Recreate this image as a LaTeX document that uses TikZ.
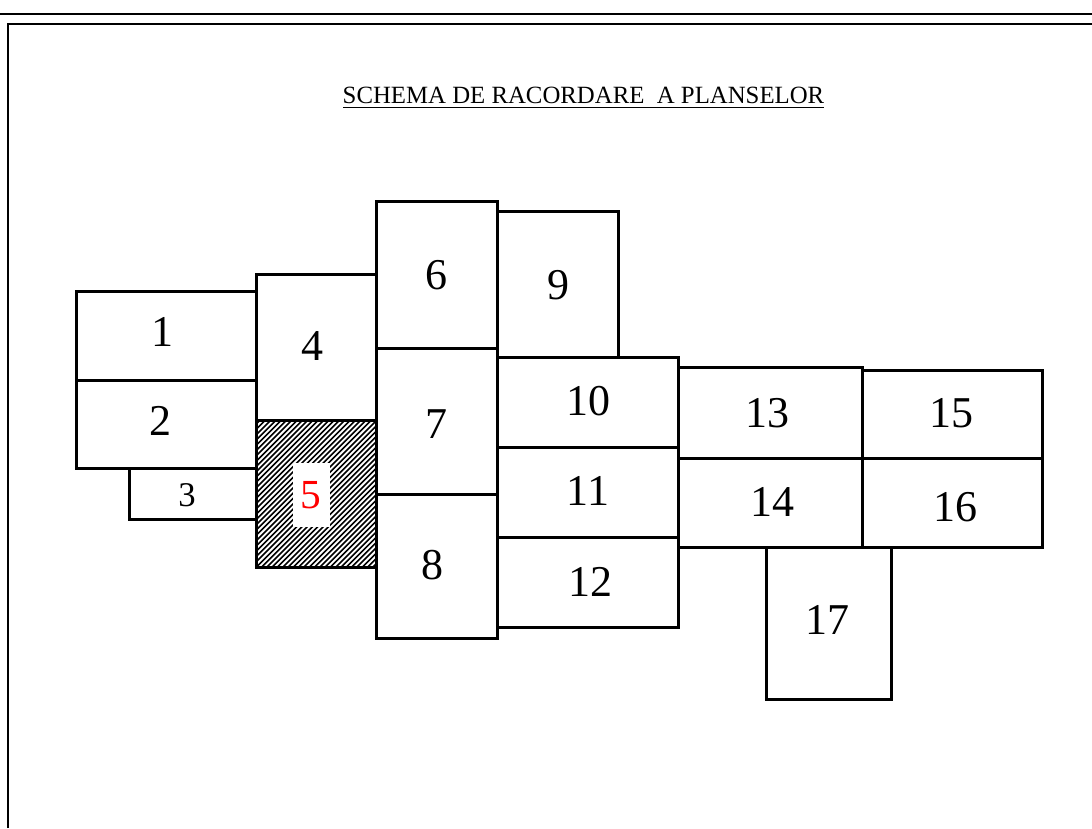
\documentclass[tikz,border=0pt]{standalone}
\usepackage{fontspec}
\setmainfont{Liberation Serif}
\begin{document}
\begin{tikzpicture}[x=0.75pt,y=-0.75pt,
  sheet/.style={line width=2.25pt,line join=miter},
  framel/.style={line width=1.5pt},
  num/.style={inner sep=0pt,font=\fontsize{33}{36}\selectfont},
  smallnum/.style={inner sep=0pt,font=\fontsize{26}{30}\selectfont},
  hatch/.style={line width=1.2pt}]
\useasboundingbox (0,0) rectangle (1092,828);
% outer frame lines
\draw[framel] (0,14) -- (1092,14);
\draw[framel] (8,828) -- (8,24) -- (1092,24);
% title
\node[inner sep=0pt,anchor=base,font=\fontsize{18.6}{20}\selectfont] (title) at (583.5,103) {SCHEMA DE RACORDARE\ \ A PLANSELOR};
\draw[line width=0.9pt] (343,107.5) -- (824,107.5);
% hatched sheet 5
\begin{scope}
  \clip (256,420) rectangle (376,567);
  \foreach \i in {0,...,55} {
    \draw[hatch] ({108+\i*5.3},567) -- ({108+\i*5.3+147},420);
  }
\end{scope}
\fill[white] (293,463) rectangle (330,527);
% sheets
\draw[sheet] (76,291) rectangle (256,380);
\draw[sheet] (76,380) rectangle (256,468);
\draw[sheet] (129,468) rectangle (256,519);
\draw[sheet] (256,274) rectangle (376,420);
\draw[sheet] (256,420) rectangle (376,567);
\draw[sheet] (376,201) rectangle (497,348);
\draw[sheet] (376,348) rectangle (497,494);
\draw[sheet] (376,494) rectangle (497,638);
\draw[sheet] (497,211) rectangle (618,357);
\draw[sheet] (497,357) rectangle (678,447);
\draw[sheet] (497,447) rectangle (678,537);
\draw[sheet] (497,537) rectangle (678,627);
\draw[sheet] (678,367) rectangle (862,458);
\draw[sheet] (678,458) rectangle (862,547);
\draw[sheet] (862,370) rectangle (1042,458);
\draw[sheet] (862,458) rectangle (1042,547);
\draw[sheet] (766,547) rectangle (891,699);
% labels
\node[num] (n1) at (162,332) {1};
\node[num] (n2) at (160,421) {2};
\node[smallnum] (n3) at (187,495) {3};
\node[num] (n4) at (312,346) {4};
\node[num,text=red,font=\fontsize{31}{34}\selectfont] (n5) at (311,495) {5};
\node[num] (n6) at (436,275) {6};
\node[num] (n7) at (436,424) {7};
\node[num] (n8) at (432,565) {8};
\node[num] (n9) at (558,285) {9};
\node[num] (n10) at (588,401) {10};
\node[num] (n11) at (588,491) {11};
\node[num] (n12) at (590,582) {12};
\node[num] (n13) at (767,413) {13};
\node[num] (n14) at (772,502) {14};
\node[num] (n15) at (951,413) {15};
\node[num] (n16) at (955,507) {16};
\node[num] (n17) at (827,620) {17};
\end{tikzpicture}
\end{document}
